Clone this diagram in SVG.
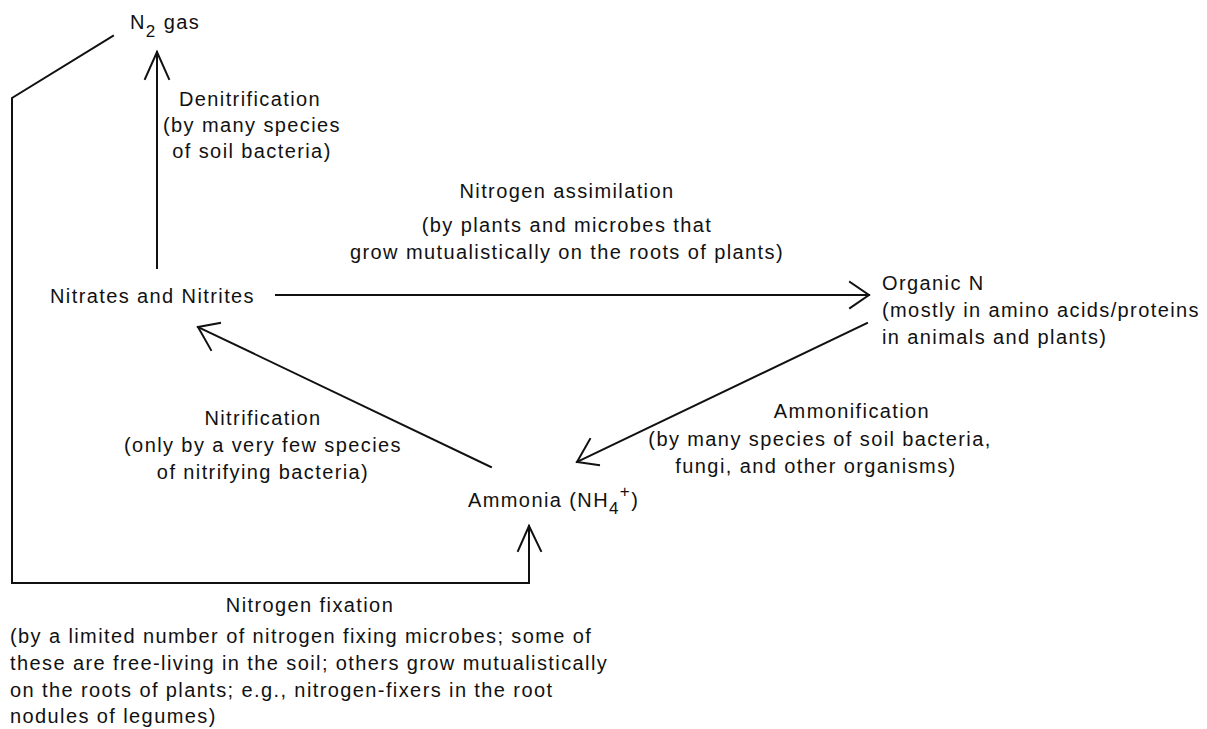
<svg xmlns="http://www.w3.org/2000/svg" width="1207" height="729" viewBox="0 0 1207 729">
<style>
text{font-family:"Liberation Sans",Arial,sans-serif;font-size:20px;letter-spacing:1.4px;fill:#111}
.c{text-anchor:middle}
.ln{fill:none;stroke:#111;stroke-width:2;stroke-linecap:square}
.sub{font-size:17px}
</style>
<rect width="1207" height="729" fill="#fff"/>
<g id="connectors">
<polyline class="ln" points="113,36 12,98 12,583 529,583 529,526"/>
<polyline class="ln" points="518,551 529,526 541,551"/>
<line class="ln" x1="157" y1="268" x2="157" y2="52"/>
<polyline class="ln" points="145,79 157,52 169,79"/>
<line class="ln" x1="276" y1="295" x2="869" y2="295"/>
<polyline class="ln" points="850,282 869,295 850,308"/>
<line class="ln" x1="491" y1="467" x2="198" y2="327"/>
<polyline class="ln" points="220,323 198,327 211,350"/>
<line class="ln" x1="867" y1="323" x2="577" y2="462"/>
<polyline class="ln" points="590,439 577,462 599,465"/>
</g>
<g id="n2gas"><text x="130" y="29">N<tspan class="sub" dy="8">2</tspan><tspan dy="-8"> gas</tspan></text></g>
<g id="denitrification">
<text class="c" x="250" y="106">Denitrification</text>
<text class="c" x="252" y="132">(by many species</text>
<text class="c" x="252" y="158">of soil bacteria)</text>
</g>
<g id="assimilation">
<text class="c" x="567" y="198">Nitrogen assimilation</text>
<text class="c" x="567" y="232">(by plants and microbes that</text>
<text class="c" x="567" y="259">grow mutualistically on the roots of plants)</text>
</g>
<g id="nitrates"><text x="50" y="303">Nitrates and Nitrites</text></g>
<g id="organicN">
<text x="882" y="290">Organic N</text>
<text x="882" y="317">(mostly in amino acids/proteins</text>
<text x="882" y="344">in animals and plants)</text>
</g>
<g id="nitrification">
<text class="c" x="263" y="425">Nitrification</text>
<text class="c" x="263" y="452">(only by a very few species</text>
<text class="c" x="263" y="479">of nitrifying bacteria)</text>
</g>
<g id="ammonification">
<text class="c" x="852" y="418">Ammonification</text>
<text class="c" x="820" y="446">(by many species of soil bacteria,</text>
<text class="c" x="816" y="473">fungi, and other organisms)</text>
</g>
<g id="ammonia"><text x="468" y="507">Ammonia (NH<tspan class="sub" dy="7">4</tspan><tspan class="sub" dy="-17">+</tspan><tspan dy="10">)</tspan></text></g>
<g id="fixation">
<text class="c" x="310" y="612">Nitrogen fixation</text>
<text x="10" y="643">(by a limited number of nitrogen fixing microbes; some of</text>
<text x="10" y="670">these are free-living in the soil; others grow mutualistically</text>
<text x="10" y="697">on the roots of plants; e.g., nitrogen-fixers in the root</text>
<text x="10" y="723">nodules of legumes)</text>
</g>
</svg>
